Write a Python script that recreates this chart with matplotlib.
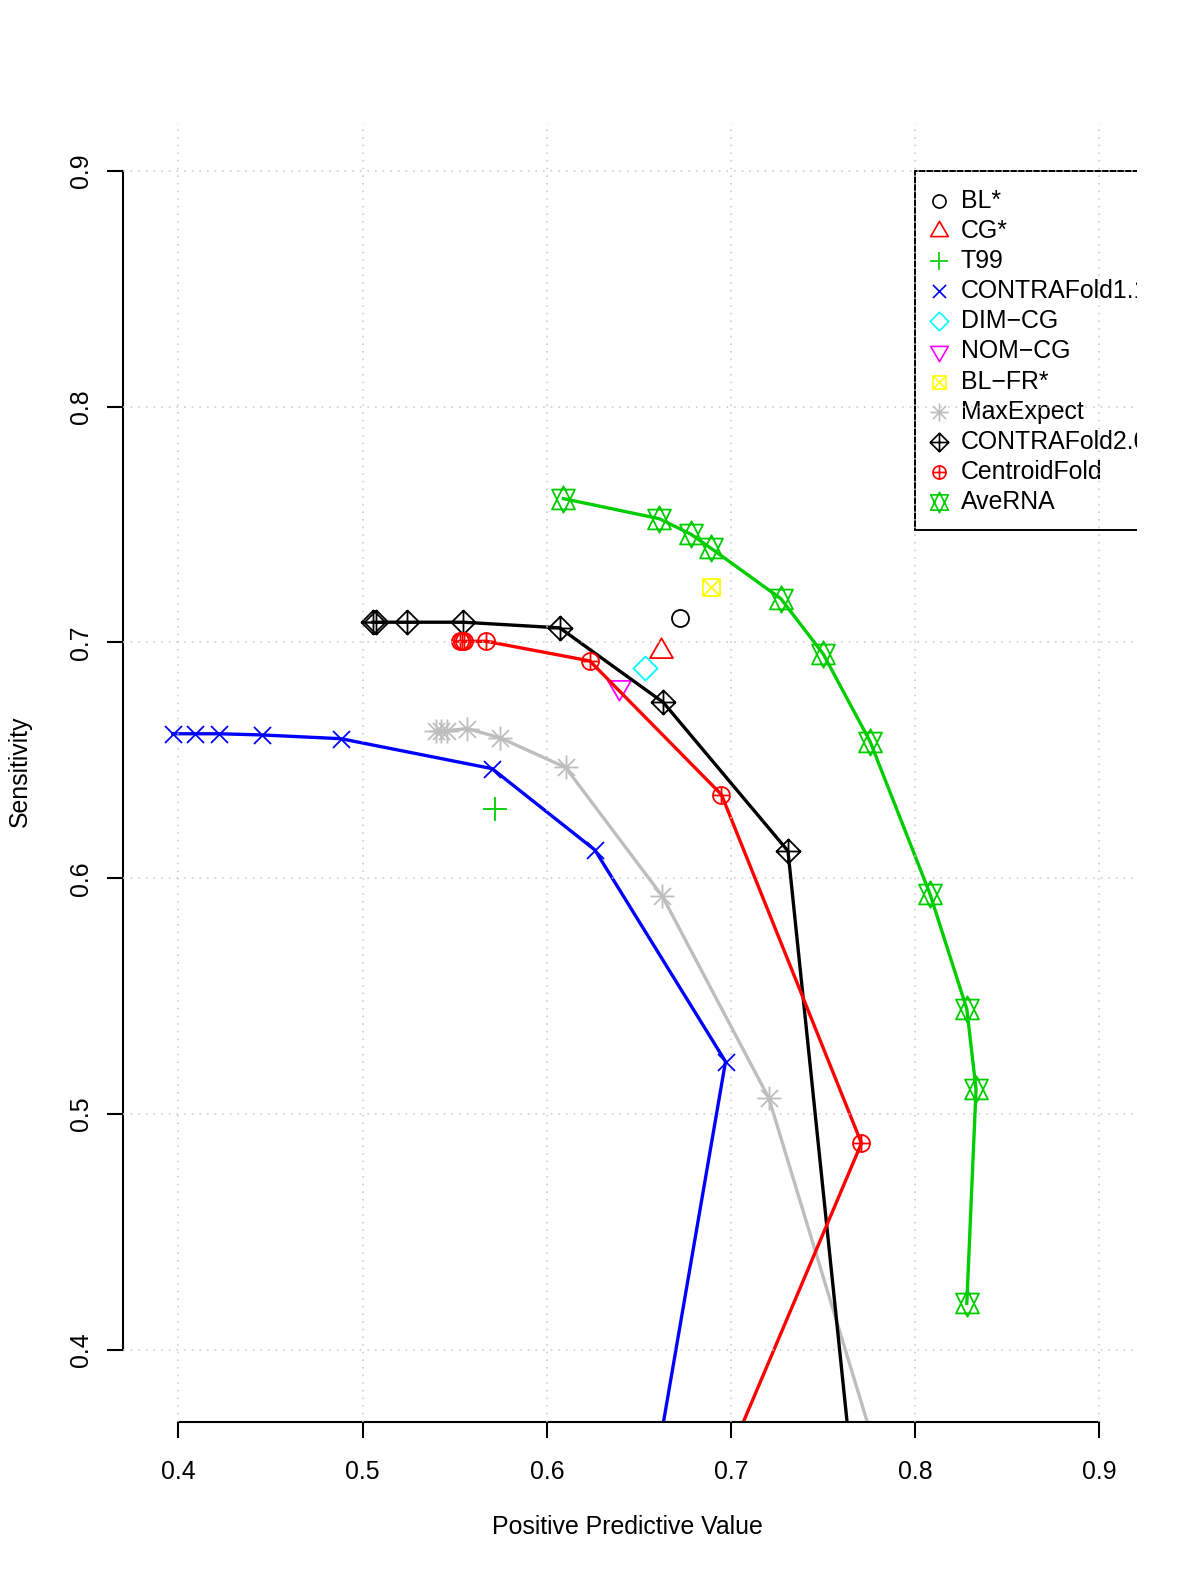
import matplotlib
matplotlib.use("Agg")
import matplotlib.pyplot as plt
import numpy as np
from matplotlib.path import Path
from matplotlib.patches import Rectangle

plt.rcParams['font.family'] = ['Liberation Sans', 'DejaVu Sans']

# ---- data ----
# single methods
bl_x, bl_y = [0.6724], [0.7105]
cg_x, cg_y = [0.6621], [0.6964]
t99_x, t99_y = [0.5719], [0.6293]
dim_x, dim_y = [0.6534], [0.6891]
nom_x, nom_y = [0.6393], [0.6812]
blfr_x, blfr_y = [0.6893], [0.7235]

# curves
cf11_x = [0.3969, 0.4089, 0.4219, 0.4453, 0.4882, 0.5703, 0.6261, 0.6970, 0.6480]
cf11_y = [0.6613, 0.6613, 0.6613, 0.6608, 0.6592, 0.6465, 0.6120, 0.5223, 0.3000]

maxexp_x = [0.5398, 0.5425, 0.5458, 0.5567, 0.5746, 0.6102, 0.6627, 0.7205, 0.8010]
maxexp_y = [0.6626, 0.6626, 0.6626, 0.6635, 0.6596, 0.6470, 0.5924, 0.5068, 0.3000]

cf20_x = [0.5056, 0.5072, 0.5241, 0.5545, 0.6070, 0.6632, 0.7309, 0.7722]
cf20_y = [0.7086, 0.7086, 0.7086, 0.7086, 0.7062, 0.6746, 0.6116, 0.3000]

centroid_x = [0.5530, 0.5540, 0.5550, 0.5670, 0.6233, 0.6948, 0.7708, 0.6690]
centroid_y = [0.7005, 0.7005, 0.7005, 0.7005, 0.6922, 0.6355, 0.4877, 0.3000]

averna_x = [0.609, 0.661, 0.678, 0.689, 0.727, 0.750, 0.7755, 0.808, 0.828, 0.833, 0.828]
averna_y = [0.761, 0.7525, 0.746, 0.740, 0.7186, 0.6952, 0.658, 0.5934, 0.5446, 0.5106, 0.4198]

legend_labels = ["BL*", "CG*", "T99", "CONTRAFold1.1", "DIM-CG", "NOM-CG",
                 "BL-FR*", "MaxExpect", "CONTRAFold2.0", "CentroidFold", "AveRNA"]
legend_labels = [s.replace("-", "\u2212") for s in legend_labels]

ticks = [0.4, 0.5, 0.6, 0.7, 0.8, 0.9]

# R palette
BLACK, RED, GREEN, BLUE = "#000000", "#FF0000", "#00CD00", "#0000FF"
CYAN, MAGENTA, YELLOW, GRAY = "#00FFFF", "#FF00FF", "#FFFF00", "#BEBEBE"

# ---- R style plotting symbols (units of circle radius) ----
M, L, C = Path.MOVETO, Path.LINETO, Path.CLOSEPOLY
S2 = np.sqrt(2)
TR0 = np.sqrt(4 * np.pi / (3 * np.sqrt(3)))
TR1 = TR0 * np.sqrt(3) / 2
TR2 = TR0 / 2


def seg(*pairs):
    v, c = [], []
    for a, b in pairs:
        v += [a, b]
        c += [M, L]
    return Path(v, c)


def poly(pts):
    return Path(pts + [pts[0]], [M] + [L] * (len(pts) - 1) + [C])


circle = Path.unit_circle()
tri_up = poly([(0, TR0), (TR1, -TR2), (-TR1, -TR2)])
tri_dn = poly([(0, -TR0), (TR1, TR2), (-TR1, TR2)])
plus = seg(((-S2, 0), (S2, 0)), ((0, -S2), (0, S2)))
cross = seg(((-1, -1), (1, 1)), ((-1, 1), (1, -1)))
diamond = poly([(0, S2), (S2, 0), (0, -S2), (-S2, 0)])
sq_x = Path.make_compound_path(poly([(-1, -1), (1, -1), (1, 1), (-1, 1)]), cross)
aster = Path.make_compound_path(cross, plus)
dia_plus = Path.make_compound_path(diamond, plus)
circ_plus = Path.make_compound_path(circle, seg(((-1, 0), (1, 0)), ((0, -1), (0, 1))))
yc = 0.5 * (TR2 + TR0)
hexa = Path.make_compound_path(poly([(0, -TR0), (TR1, yc), (-TR1, yc)]),
                               poly([(0, TR0), (TR1, -yc), (-TR1, -yc)]))

R_PT = 8.5 / (100 / 72.0)


def msize(p, k=1.0):
    return 2 * np.abs(p.vertices).max() * R_PT * k


LW = 2.4
MEW = 1.3
FS = 17.9

fig = plt.figure(figsize=(12, 15.75), dpi=100)
ax = fig.add_axes([122.5 / 1200, (1575 - 1421.7) / 1575,
                   (1137 - 122.5) / 1200, (1421.7 - 122.7) / 1575])
ax.set_xlim(0.3696, 0.9204)
ax.set_ylim(0.3696, 0.9204)

singles = [(bl_x, bl_y, BLACK, circle), (cg_x, cg_y, RED, tri_up),
           (t99_x, t99_y, GREEN, plus), (dim_x, dim_y, CYAN, diamond),
           (nom_x, nom_y, MAGENTA, tri_dn), (blfr_x, blfr_y, YELLOW, sq_x)]
for x, y, col, mk in singles:
    ax.plot(x, y, ls='none', marker=mk, ms=msize(mk), mfc='none', mec=col, mew=MEW)

curves = [(cf11_x, cf11_y, BLUE, cross), (maxexp_x, maxexp_y, GRAY, aster),
          (cf20_x, cf20_y, BLACK, dia_plus), (centroid_x, centroid_y, RED, circ_plus),
          (averna_x, averna_y, GREEN, hexa)]
for x, y, col, mk in curves:
    ax.plot(x, y, color=col, lw=LW, marker=mk, ms=msize(mk), mfc='none', mec=col, mew=MEW)

# legend box (cut off by the plot region like the original)
leg_syms = [(BLACK, circle), (RED, tri_up), (GREEN, plus), (BLUE, cross),
            (CYAN, diamond), (MAGENTA, tri_dn), (YELLOW, sq_x), (GRAY, aster),
            (BLACK, dia_plus), (RED, circ_plus), (GREEN, hexa)]
ax.add_patch(Rectangle((0.8, 0.7477), 0.3, 0.9 - 0.7477, facecolor='white',
                       edgecolor='black', lw=1.4, zorder=3, clip_on=True))
row0, step = 0.8873, 0.01278
for i, ((col, mk), lab) in enumerate(zip(leg_syms, legend_labels)):
    yy = row0 - i * step
    ax.plot([0.8127], [yy], ls='none', marker=mk, ms=msize(mk, 0.77), mfc='none',
            mec=col, mew=1.2, zorder=4)
    ax.text(0.8247, yy, lab, fontsize=FS, va='center', ha='left', zorder=4, clip_on=True)

# dotted grid on top of everything, as in R's grid()
for v in ticks:
    ax.axvline(v, color='#c8c8c8', lw=1.1, ls=(0, (1, 4)), zorder=10)
    ax.axhline(v, color='#c8c8c8', lw=1.1, ls=(0, (1, 4)), zorder=10)

for s in ['top', 'right']:
    ax.spines[s].set_visible(False)
ax.spines['left'].set_bounds(0.4, 0.9)
ax.spines['bottom'].set_bounds(0.4, 0.9)
ax.spines['left'].set_linewidth(1.5)
ax.spines['bottom'].set_linewidth(1.5)

ax.set_xticks(ticks)
ax.set_yticks(ticks)
ax.set_xticklabels([str(t) for t in ticks])
ax.set_yticklabels([str(t) for t in ticks], rotation=90, va='center')
ax.tick_params(direction='out', length=11.5, width=1.5, labelsize=FS)
ax.tick_params(axis='x', pad=16)
ax.tick_params(axis='y', pad=10)

fig.text(627.6 / 1200, 1 - 1527.5 / 1575, "Positive Predictive Value",
         fontsize=FS, ha='center', va='center')
fig.text(20.1 / 1200, 1 - 771 / 1575, "Sensitivity", fontsize=FS,
         rotation=90, ha='center', va='center')

fig.savefig('out.png', dpi=100)
